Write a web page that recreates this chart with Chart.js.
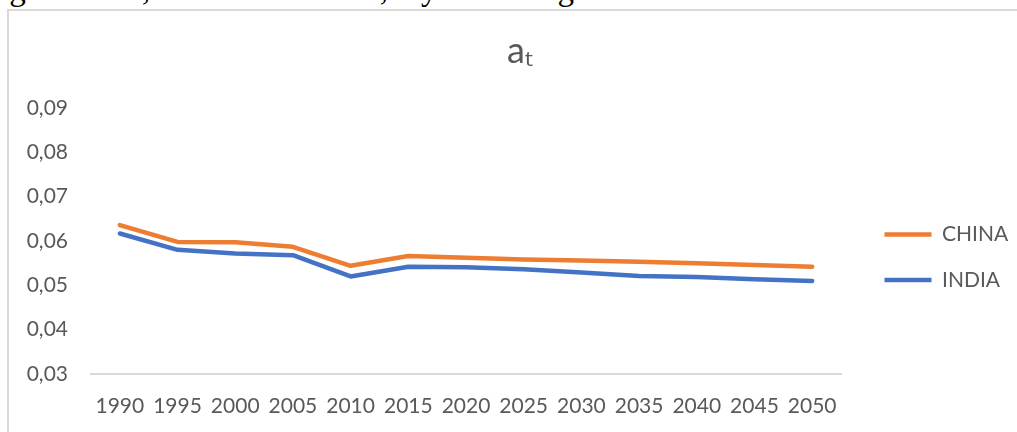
<!DOCTYPE html>
<html>
<head>
<meta charset="utf-8">
<script src="https://cdn.jsdelivr.net/npm/chart.js@4.4.1/dist/chart.umd.min.js"></script>
<style>
  html, body { margin: 0; padding: 0; background: #fff; overflow: hidden; }
  .wrap { position: relative; width: 1017px; height: 432px; overflow: hidden; }
  .legenda { position: absolute; left: 0; top: -27px; white-space: nowrap;
    font: 33px/33px 'Liberation Serif', 'DejaVu Serif', serif; color: #000; }
  .moldura { position: absolute; left: 7px; top: 9px; width: 1040px; height: 460px;
    border: 2px solid #d9d9d9; box-sizing: border-box; }
  canvas { position: absolute; left: 0; top: 0; }
</style>
</head>
<body>
<div class="wrap">
  <div class="legenda">igure 4.: at, Ratio's in a ation, 5 year averages an variables</div>
  <div class="moldura"></div>
  <canvas id="grafico" width="1017" height="432"></canvas>
</div>
<script>
  var anos = ['1990', '1995', '2000', '2005', '2010', '2015', '2020', '2025', '2030', '2035', '2040', '2045', '2050'];
  var china = [0.0636, 0.0598, 0.0597, 0.0587, 0.0544, 0.0566, 0.0562, 0.0558, 0.0556, 0.0553, 0.0550, 0.0546, 0.0542];
  var india = [0.0617, 0.0580, 0.0572, 0.0568, 0.0520, 0.0542, 0.0541, 0.0536, 0.0529, 0.0521, 0.0519, 0.0514, 0.0510];
  var ticksY = [0.03, 0.04, 0.05, 0.06, 0.07, 0.08, 0.09];

  var fonte = "Lato, 'Open Sans', sans-serif";
  var cinza = '#595959';

  new Chart(document.getElementById('grafico'), {
    type: 'line',
    data: {
      labels: anos,
      datasets: [
        { label: 'CHINA', data: china, borderColor: '#ED7D31', backgroundColor: '#ED7D31', yAxisID: 'y' },
        { label: 'INDIA', data: india, borderColor: '#4472C4', backgroundColor: '#4472C4', yAxisID: 'y' }
      ]
    },
    options: {
      responsive: false,
      animation: false,
      datasets: {
        line: { borderWidth: 4.5, tension: 0, pointRadius: 0, borderCapStyle: 'round', borderJoinStyle: 'round', pointStyle: 'line' }
      },
      // fundo negativo: a legenda (fullSize) fica centrada como no Excel
      layout: { padding: { top: 29.5, bottom: -53, left: 25, right: 2 } },
      plugins: {
        title: {
          display: true,
          text: 'a\u209C',
          color: cinza,
          font: { family: fonte, size: 36, weight: 'normal', lineHeight: 1.2 },
          padding: { top: 0, bottom: 35.3 }
        },
        tooltip: { enabled: false },
        legend: {
          position: 'right',
          maxWidth: 155,
          labels: {
            usePointStyle: true,
            pointStyleWidth: 47,
            padding: 24.5,
            color: cinza,
            font: { family: fonte, size: 21 }
          }
        }
      },
      scales: {
        x: {
          offset: true,
          grid: { display: false, drawTicks: false },
          border: { display: true, color: '#d9d9d9', width: 2 },
          ticks: { color: cinza, font: { family: fonte, size: 21 }, padding: 20, maxRotation: 0, autoSkip: false },
          afterFit: function (s) { s.height = 111; }
        },
        y: {
          min: ticksY[0],
          max: ticksY[ticksY.length - 1],
          grid: { display: false, drawTicks: false },
          border: { display: false },
          afterBuildTicks: function (s) { s.ticks = ticksY.map(function (v) { return { value: v }; }); },
          ticks: {
            color: cinza,
            font: { family: fonte, size: 21 },
            padding: 23,
            callback: function (v) { return v.toFixed(2).replace('.', ','); }
          },
          afterFit: function (s) { s.width = 66; }
        },
        y2: {
          position: 'right',
          display: true,
          grid: { display: false, drawTicks: false },
          border: { display: false },
          ticks: { display: false },
          afterFit: function (s) { s.width = 19; }
        }
      }
    }
  });
</script>
</body>
</html>
